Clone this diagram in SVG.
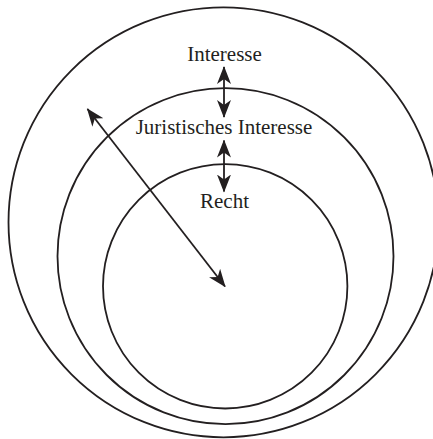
<svg xmlns="http://www.w3.org/2000/svg" width="433" height="439" viewBox="0 0 433 439">
<style>
.ring{fill:none;stroke:#231f20;stroke-width:1.8}
.conn{fill:none;stroke:#231f20;stroke-width:1.8;marker-start:url(#ah);marker-end:url(#ah)}
.lbl{font-family:"Liberation Serif","Times New Roman",serif;font-size:21px;fill:#231f20;text-anchor:middle}
</style>
<defs>
<marker id="ah" viewBox="0 0 18 14" refX="17" refY="7" markerWidth="18" markerHeight="14" markerUnits="userSpaceOnUse" orient="auto-start-reverse">
<path d="M0,0 L18,7 L0,14 L5,7 Z" fill="#231f20"/>
</marker>
</defs>
<rect width="433" height="439" fill="#fff"/>
<g id="interesse">
<circle class="ring" cx="223.5" cy="222.3" r="215"/>
<text class="lbl" x="224.5" y="61">Interesse</text>
</g>
<g id="juristisches-interesse">
<circle class="ring" cx="225.5" cy="256.2" r="168"/>
<text class="lbl" x="224" y="134">Juristisches Interesse</text>
</g>
<g id="recht">
<circle class="ring" cx="225.2" cy="286.3" r="122.2"/>
<text class="lbl" x="224.5" y="208">Recht</text>
</g>
<g id="connectors">
<path class="conn" d="M224,67 L224,117"/>
<path class="conn" d="M224,140.5 L224,191.5"/>
<path class="conn" d="M87.5,109 L225,286.5"/>
</g>
</svg>
